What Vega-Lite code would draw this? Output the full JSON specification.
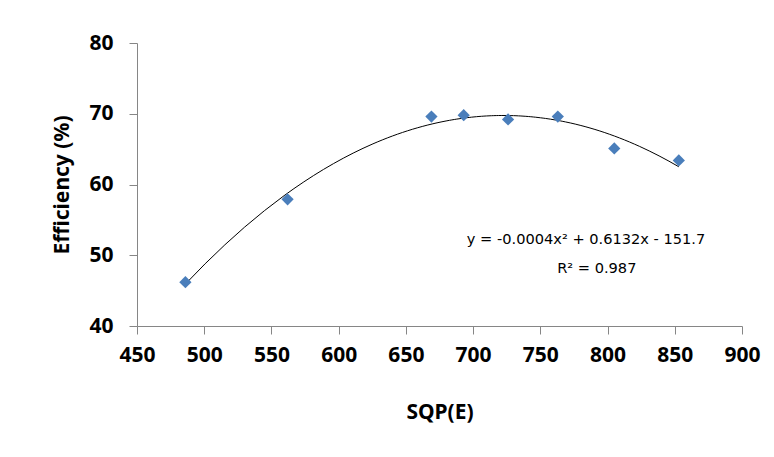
{
  "$schema": "https://vega.github.io/schema/vega-lite/v6.json",
  "autosize": "none",
  "width": 605,
  "height": 283,
  "padding": {"left": 137, "top": 43, "right": 32, "bottom": 131},
  "background": "white",
  "config": {
    "view": {"stroke": null},
    "font": "Noto Sans",
    "axis": {
      "grid": false,
      "domainColor": "#868686",
      "tickColor": "#868686",
      "tickSize": 8,
      "labelFlush": false,
      "labelOverlap": false,
      "labelFont": "Noto Sans",
      "labelFontSize": 21,
      "labelFontWeight": "bold",
      "labelColor": "#000000",
      "titleFont": "Noto Sans",
      "titleFontSize": 21,
      "titleFontWeight": "bold",
      "titleColor": "#000000"
    }
  },
  "layer": [
    {
      "data": {"values": [
        {"sqp": 486, "eff": 46.2},
        {"sqp": 562, "eff": 57.9},
        {"sqp": 669, "eff": 69.6},
        {"sqp": 693, "eff": 69.8},
        {"sqp": 726, "eff": 69.2},
        {"sqp": 763, "eff": 69.6},
        {"sqp": 805, "eff": 65.1},
        {"sqp": 853, "eff": 63.4}
      ]},
      "layer": [
        {
          "transform": [{"regression": "eff", "on": "sqp", "method": "poly", "order": 2}],
          "mark": {"type": "line", "color": "#000000", "strokeWidth": 1},
          "encoding": {
            "x": {"field": "sqp", "type": "quantitative"},
            "y": {"field": "eff", "type": "quantitative"}
          }
        },
        {
          "mark": {"type": "point", "shape": "diamond", "filled": true, "opacity": 1, "size": 150, "color": "#4a7ebb"},
          "encoding": {
            "x": {"field": "sqp", "type": "quantitative",
              "scale": {"domain": [450, 900], "nice": false, "zero": false},
              "axis": {"values": [450, 500, 550, 600, 650, 700, 750, 800, 850, 900], "title": "SQP(E)", "labelPadding": 10, "titlePadding": 36}},
            "y": {"field": "eff", "type": "quantitative",
              "scale": {"domain": [40, 80], "nice": false, "zero": false},
              "axis": {"values": [40, 50, 60, 70, 80], "title": "Efficiency (%)", "labelPadding": 16, "titlePadding": 16}}
          }
        }
      ]
    },
    {
      "data": {"values": [
        {"sqp": 784, "eff": 52.2, "label": "y = -0.0004x² + 0.6132x - 151.7"},
        {"sqp": 792, "eff": 48.1, "label": "R² = 0.987"}
      ]},
      "mark": {"type": "text", "fontSize": 14.6, "font": "DejaVu Sans", "color": "#000000", "align": "center", "baseline": "middle"},
      "encoding": {
        "x": {"field": "sqp", "type": "quantitative"},
        "y": {"field": "eff", "type": "quantitative"},
        "text": {"field": "label"}
      }
    }
  ]
}
